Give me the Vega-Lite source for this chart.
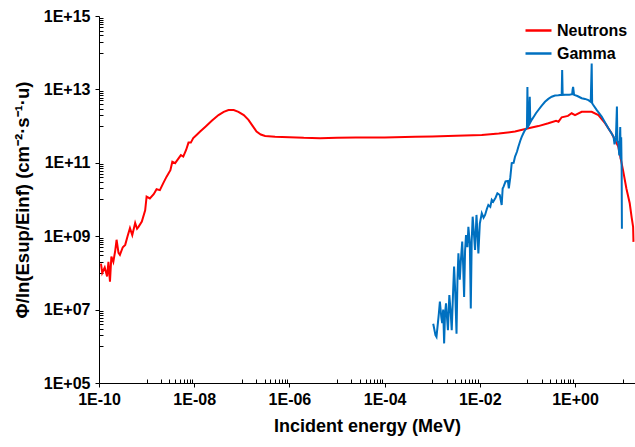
{
  "$schema": "https://vega.github.io/schema/vega-lite/v6.json",
  "autosize": {"type": "none"},
  "padding": {"left": 99, "top": 16, "right": 0, "bottom": 64},
  "width": 536,
  "height": 367,
  "background": "white",
  "config": {
    "view": {"stroke": null},
    "font": "Liberation Sans",
    "axis": {"labelFont": "Liberation Sans", "titleFont": "Liberation Sans", "labelColor": "#000000", "titleColor": "#000000", "domainColor": "#000000", "tickColor": "#000000", "grid": false}
  },
  "datasets": {
    "flux": [
      {"series": "Neutrons", "E": 1.10e-10, "phi": 1.8e8},
      {"series": "Neutrons", "E": 1.17e-10, "phi": 1.0e8},
      {"series": "Neutrons", "E": 1.32e-10, "phi": 1.4e8},
      {"series": "Neutrons", "E": 1.48e-10, "phi": 8.0e7},
      {"series": "Neutrons", "E": 1.58e-10, "phi": 2.0e8},
      {"series": "Neutrons", "E": 1.70e-10, "phi": 5.8e7},
      {"series": "Neutrons", "E": 1.82e-10, "phi": 2.8e8},
      {"series": "Neutrons", "E": 2.00e-10, "phi": 2.0e8},
      {"series": "Neutrons", "E": 2.19e-10, "phi": 4.0e8},
      {"series": "Neutrons", "E": 2.34e-10, "phi": 8.0e8},
      {"series": "Neutrons", "E": 2.57e-10, "phi": 3.5e8},
      {"series": "Neutrons", "E": 2.75e-10, "phi": 3.1e8},
      {"series": "Neutrons", "E": 3.16e-10, "phi": 5.0e8},
      {"series": "Neutrons", "E": 3.55e-10, "phi": 5.8e8},
      {"series": "Neutrons", "E": 3.98e-10, "phi": 1.0e9},
      {"series": "Neutrons", "E": 4.47e-10, "phi": 1.66e9},
      {"series": "Neutrons", "E": 5.00e-10, "phi": 1.07e9},
      {"series": "Neutrons", "E": 5.75e-10, "phi": 2.3e9},
      {"series": "Neutrons", "E": 6.30e-10, "phi": 1.6e9},
      {"series": "Neutrons", "E": 6.76e-10, "phi": 1.8e9},
      {"series": "Neutrons", "E": 7.94e-10, "phi": 2.5e9},
      {"series": "Neutrons", "E": 9.33e-10, "phi": 5.1e9},
      {"series": "Neutrons", "E": 1.00e-9, "phi": 1.2e10},
      {"series": "Neutrons", "E": 1.17e-9, "phi": 1.07e10},
      {"series": "Neutrons", "E": 1.41e-9, "phi": 1.4e10},
      {"series": "Neutrons", "E": 1.62e-9, "phi": 1.9e10},
      {"series": "Neutrons", "E": 1.90e-9, "phi": 1.8e10},
      {"series": "Neutrons", "E": 2.24e-9, "phi": 2.8e10},
      {"series": "Neutrons", "E": 2.63e-9, "phi": 4.2e10},
      {"series": "Neutrons", "E": 3.16e-9, "phi": 6.3e10},
      {"series": "Neutrons", "E": 3.47e-9, "phi": 1.07e11},
      {"series": "Neutrons", "E": 3.98e-9, "phi": 9.8e10},
      {"series": "Neutrons", "E": 4.57e-9, "phi": 1.26e11},
      {"series": "Neutrons", "E": 5.25e-9, "phi": 1.62e11},
      {"series": "Neutrons", "E": 5.89e-9, "phi": 1.48e11},
      {"series": "Neutrons", "E": 6.76e-9, "phi": 2.24e11},
      {"series": "Neutrons", "E": 7.59e-9, "phi": 3.55e11},
      {"series": "Neutrons", "E": 8.50e-9, "phi": 3.55e11},
      {"series": "Neutrons", "E": 9.55e-9, "phi": 4.7e11},
      {"series": "Neutrons", "E": 1.12e-8, "phi": 5.75e11},
      {"series": "Neutrons", "E": 1.35e-8, "phi": 7.2e11},
      {"series": "Neutrons", "E": 1.70e-8, "phi": 9.5e11},
      {"series": "Neutrons", "E": 2.34e-8, "phi": 1.4e12},
      {"series": "Neutrons", "E": 3.24e-8, "phi": 2.0e12},
      {"series": "Neutrons", "E": 4.17e-8, "phi": 2.45e12},
      {"series": "Neutrons", "E": 5.25e-8, "phi": 2.75e12},
      {"series": "Neutrons", "E": 6.76e-8, "phi": 2.75e12},
      {"series": "Neutrons", "E": 8.50e-8, "phi": 2.45e12},
      {"series": "Neutrons", "E": 1.10e-7, "phi": 2.0e12},
      {"series": "Neutrons", "E": 1.38e-7, "phi": 1.48e12},
      {"series": "Neutrons", "E": 1.70e-7, "phi": 1.0e12},
      {"series": "Neutrons", "E": 2.04e-7, "phi": 7.1e11},
      {"series": "Neutrons", "E": 2.50e-7, "phi": 5.9e11},
      {"series": "Neutrons", "E": 3.09e-7, "phi": 5.4e11},
      {"series": "Neutrons", "E": 5.00e-7, "phi": 5.1e11},
      {"series": "Neutrons", "E": 1.0e-6, "phi": 5.0e11},
      {"series": "Neutrons", "E": 2.0e-6, "phi": 4.8e11},
      {"series": "Neutrons", "E": 4.4e-6, "phi": 4.7e11},
      {"series": "Neutrons", "E": 1.0e-5, "phi": 4.8e11},
      {"series": "Neutrons", "E": 2.5e-5, "phi": 4.9e11},
      {"series": "Neutrons", "E": 1.0e-4, "phi": 4.9e11},
      {"series": "Neutrons", "E": 4.4e-4, "phi": 5.1e11},
      {"series": "Neutrons", "E": 1.0e-3, "phi": 5.2e11},
      {"series": "Neutrons", "E": 3.16e-3, "phi": 5.5e11},
      {"series": "Neutrons", "E": 1.1e-2, "phi": 5.75e11},
      {"series": "Neutrons", "E": 2.5e-2, "phi": 6.3e11},
      {"series": "Neutrons", "E": 5.5e-2, "phi": 7.1e11},
      {"series": "Neutrons", "E": 0.105, "phi": 8.7e11},
      {"series": "Neutrons", "E": 0.17, "phi": 1.0e12},
      {"series": "Neutrons", "E": 0.275, "phi": 1.2e12},
      {"series": "Neutrons", "E": 0.40, "phi": 1.4e12},
      {"series": "Neutrons", "E": 0.45, "phi": 1.32e12},
      {"series": "Neutrons", "E": 0.525, "phi": 1.74e12},
      {"series": "Neutrons", "E": 0.71, "phi": 1.9e12},
      {"series": "Neutrons", "E": 0.85, "phi": 2.24e12},
      {"series": "Neutrons", "E": 1.0, "phi": 2.0e12},
      {"series": "Neutrons", "E": 1.38, "phi": 2.45e12},
      {"series": "Neutrons", "E": 2.24, "phi": 2.45e12},
      {"series": "Neutrons", "E": 3.1, "phi": 2.0e12},
      {"series": "Neutrons", "E": 4.27, "phi": 1.2e12},
      {"series": "Neutrons", "E": 5.9, "phi": 6.3e11},
      {"series": "Neutrons", "E": 8.1, "phi": 2.75e11},
      {"series": "Neutrons", "E": 10.2, "phi": 6.3e10},
      {"series": "Neutrons", "E": 12.0, "phi": 2.0e10},
      {"series": "Neutrons", "E": 14.1, "phi": 7.9e9},
      {"series": "Neutrons", "E": 15.5, "phi": 3.2e9},
      {"series": "Neutrons", "E": 16.6, "phi": 1.8e9},
      {"series": "Neutrons", "E": 16.9, "phi": 7.0e8},
      {"series": "Gamma", "E": 1.05e-3, "phi": 4.1e6},
      {"series": "Gamma", "E": 1.17e-3, "phi": 2.0e6},
      {"series": "Gamma", "E": 1.23e-3, "phi": 1.8e6},
      {"series": "Gamma", "E": 1.38e-3, "phi": 7.9e6},
      {"series": "Gamma", "E": 1.45e-3, "phi": 1.66e7},
      {"series": "Gamma", "E": 1.55e-3, "phi": 6.3e6},
      {"series": "Gamma", "E": 1.62e-3, "phi": 4.3e6},
      {"series": "Gamma", "E": 1.70e-3, "phi": 1.0e7},
      {"series": "Gamma", "E": 1.78e-3, "phi": 1.2e6},
      {"series": "Gamma", "E": 1.86e-3, "phi": 7.9e6},
      {"series": "Gamma", "E": 1.95e-3, "phi": 1.48e7},
      {"series": "Gamma", "E": 2.04e-3, "phi": 6.3e6},
      {"series": "Gamma", "E": 2.14e-3, "phi": 2.75e6},
      {"series": "Gamma", "E": 2.24e-3, "phi": 1.26e7},
      {"series": "Gamma", "E": 2.29e-3, "phi": 2.5e7},
      {"series": "Gamma", "E": 2.45e-3, "phi": 7.9e6},
      {"series": "Gamma", "E": 2.57e-3, "phi": 2.75e6},
      {"series": "Gamma", "E": 2.75e-3, "phi": 3.2e7},
      {"series": "Gamma", "E": 2.88e-3, "phi": 1.48e8},
      {"series": "Gamma", "E": 3.02e-3, "phi": 4.0e7},
      {"series": "Gamma", "E": 3.24e-3, "phi": 2.2e6},
      {"series": "Gamma", "E": 3.39e-3, "phi": 6.3e7},
      {"series": "Gamma", "E": 3.55e-3, "phi": 3.4e8},
      {"series": "Gamma", "E": 3.80e-3, "phi": 6.5e7},
      {"series": "Gamma", "E": 3.98e-3, "phi": 2.0e8},
      {"series": "Gamma", "E": 4.27e-3, "phi": 7.1e8},
      {"series": "Gamma", "E": 4.47e-3, "phi": 1.6e8},
      {"series": "Gamma", "E": 4.68e-3, "phi": 2.2e7},
      {"series": "Gamma", "E": 4.90e-3, "phi": 4.0e8},
      {"series": "Gamma", "E": 5.13e-3, "phi": 1.07e9},
      {"series": "Gamma", "E": 5.50e-3, "phi": 5.0e8},
      {"series": "Gamma", "E": 5.75e-3, "phi": 1.8e9},
      {"series": "Gamma", "E": 6.17e-3, "phi": 6.3e8},
      {"series": "Gamma", "E": 6.46e-3, "phi": 1.07e7},
      {"series": "Gamma", "E": 6.76e-3, "phi": 7.9e8},
      {"series": "Gamma", "E": 7.08e-3, "phi": 3.4e9},
      {"series": "Gamma", "E": 7.59e-3, "phi": 1.0e9},
      {"series": "Gamma", "E": 7.94e-3, "phi": 4.2e8},
      {"series": "Gamma", "E": 8.51e-3, "phi": 3.8e9},
      {"series": "Gamma", "E": 8.91e-3, "phi": 1.26e9},
      {"series": "Gamma", "E": 9.33e-3, "phi": 3.4e8},
      {"series": "Gamma", "E": 1.0e-2, "phi": 2.2e9},
      {"series": "Gamma", "E": 1.10e-2, "phi": 4.2e9},
      {"series": "Gamma", "E": 1.20e-2, "phi": 3.2e9},
      {"series": "Gamma", "E": 1.29e-2, "phi": 3.8e9},
      {"series": "Gamma", "E": 1.41e-2, "phi": 5.6e9},
      {"series": "Gamma", "E": 1.51e-2, "phi": 7.1e9},
      {"series": "Gamma", "E": 1.66e-2, "phi": 6.3e9},
      {"series": "Gamma", "E": 1.78e-2, "phi": 9.8e9},
      {"series": "Gamma", "E": 1.91e-2, "phi": 8.7e9},
      {"series": "Gamma", "E": 2.14e-2, "phi": 1.12e10},
      {"series": "Gamma", "E": 2.34e-2, "phi": 1.48e10},
      {"series": "Gamma", "E": 2.63e-2, "phi": 1.32e10},
      {"series": "Gamma", "E": 2.88e-2, "phi": 7.1e9},
      {"series": "Gamma", "E": 3.02e-2, "phi": 2.0e10},
      {"series": "Gamma", "E": 3.16e-2, "phi": 2.24e10},
      {"series": "Gamma", "E": 3.47e-2, "phi": 3.1e10},
      {"series": "Gamma", "E": 3.89e-2, "phi": 3.2e10},
      {"series": "Gamma", "E": 4.07e-2, "phi": 2.0e10},
      {"series": "Gamma", "E": 4.37e-2, "phi": 4.0e10},
      {"series": "Gamma", "E": 4.68e-2, "phi": 9.8e10},
      {"series": "Gamma", "E": 5.13e-2, "phi": 1.0e11},
      {"series": "Gamma", "E": 5.50e-2, "phi": 1.48e11},
      {"series": "Gamma", "E": 6.03e-2, "phi": 2.0e11},
      {"series": "Gamma", "E": 6.46e-2, "phi": 2.75e11},
      {"series": "Gamma", "E": 7.08e-2, "phi": 4.0e11},
      {"series": "Gamma", "E": 7.59e-2, "phi": 5.1e11},
      {"series": "Gamma", "E": 8.32e-2, "phi": 6.6e11},
      {"series": "Gamma", "E": 8.91e-2, "phi": 7.8e11},
      {"series": "Gamma", "E": 9.77e-2, "phi": 8.9e11},
      {"series": "Gamma", "E": 0.100, "phi": 1.17e13},
      {"series": "Gamma", "E": 0.102, "phi": 9.1e11},
      {"series": "Gamma", "E": 0.107, "phi": 1.12e12},
      {"series": "Gamma", "E": 0.112, "phi": 6.3e12},
      {"series": "Gamma", "E": 0.115, "phi": 1.26e12},
      {"series": "Gamma", "E": 0.123, "phi": 1.48e12},
      {"series": "Gamma", "E": 0.138, "phi": 1.86e12},
      {"series": "Gamma", "E": 0.151, "phi": 2.24e12},
      {"series": "Gamma", "E": 0.170, "phi": 2.75e12},
      {"series": "Gamma", "E": 0.200, "phi": 3.6e12},
      {"series": "Gamma", "E": 0.234, "phi": 4.6e12},
      {"series": "Gamma", "E": 0.275, "phi": 5.5e12},
      {"series": "Gamma", "E": 0.324, "phi": 6.3e12},
      {"series": "Gamma", "E": 0.380, "phi": 6.8e12},
      {"series": "Gamma", "E": 0.447, "phi": 6.9e12},
      {"series": "Gamma", "E": 0.525, "phi": 7.1e12},
      {"series": "Gamma", "E": 0.537, "phi": 3.4e13},
      {"series": "Gamma", "E": 0.550, "phi": 7.1e12},
      {"series": "Gamma", "E": 0.631, "phi": 7.2e12},
      {"series": "Gamma", "E": 0.759, "phi": 7.2e12},
      {"series": "Gamma", "E": 0.871, "phi": 7.4e12},
      {"series": "Gamma", "E": 0.891, "phi": 1.0e13},
      {"series": "Gamma", "E": 0.912, "phi": 1.17e13},
      {"series": "Gamma", "E": 0.955, "phi": 7.1e12},
      {"series": "Gamma", "E": 1.12, "phi": 6.6e12},
      {"series": "Gamma", "E": 1.38, "phi": 5.75e12},
      {"series": "Gamma", "E": 1.62, "phi": 5.5e12},
      {"series": "Gamma", "E": 1.91, "phi": 5.1e12},
      {"series": "Gamma", "E": 2.14, "phi": 4.6e12},
      {"series": "Gamma", "E": 2.24, "phi": 5.1e13},
      {"series": "Gamma", "E": 2.29, "phi": 4.2e12},
      {"series": "Gamma", "E": 2.40, "phi": 3.8e12},
      {"series": "Gamma", "E": 2.82, "phi": 2.8e12},
      {"series": "Gamma", "E": 3.63, "phi": 1.82e12},
      {"series": "Gamma", "E": 4.27, "phi": 1.26e12},
      {"series": "Gamma", "E": 5.01, "phi": 8.7e11},
      {"series": "Gamma", "E": 5.75, "phi": 6.6e11},
      {"series": "Gamma", "E": 6.46, "phi": 5.1e11},
      {"series": "Gamma", "E": 6.76, "phi": 3.2e11},
      {"series": "Gamma", "E": 7.24, "phi": 5.0e11},
      {"series": "Gamma", "E": 7.59, "phi": 3.4e12},
      {"series": "Gamma", "E": 7.76, "phi": 4.0e11},
      {"series": "Gamma", "E": 8.13, "phi": 3.4e11},
      {"series": "Gamma", "E": 8.51, "phi": 1.6e11},
      {"series": "Gamma", "E": 8.91, "phi": 9.5e11},
      {"series": "Gamma", "E": 9.12, "phi": 1.26e11},
      {"series": "Gamma", "E": 9.33, "phi": 5.0e11},
      {"series": "Gamma", "E": 9.55, "phi": 6.3e10},
      {"series": "Gamma", "E": 9.66, "phi": 1.6e9}
    ]
  },
  "layer": [
    {
      "mark": {"type": "rule", "color": "#595959", "strokeWidth": 1},
      "encoding": {"y": {"datum": 1e15, "type": "quantitative", "scale": {"type": "log", "domain": [1e5, 1e15]}}}
    },
    {
      "data": {"name": "flux"},
      "mark": {"type": "line", "strokeWidth": 2, "clip": true},
      "encoding": {
        "x": {
          "field": "E", "type": "quantitative",
          "scale": {"type": "log", "domain": [1e-10, 18.2], "nice": false},
          "title": "Incident energy (MeV)",
          "axis": {
            "values": [1e-10, 1e-9, 2e-9, 3e-9, 4e-9, 5e-9, 6e-9, 7e-9, 8e-9, 9e-9, 1e-8, 1e-7, 2e-7, 3e-7, 4e-7, 5e-7, 6e-7, 7e-7, 8e-7, 9e-7, 1e-6, 1e-5, 2e-5, 3e-5, 4e-5, 5e-5, 6e-5, 7e-5, 8e-5, 9e-5, 1e-4, 1e-3, 2e-3, 3e-3, 4e-3, 5e-3, 6e-3, 7e-3, 8e-3, 9e-3, 1e-2, 1e-1, 2e-1, 3e-1, 4e-1, 5e-1, 6e-1, 7e-1, 8e-1, 9e-1, 1, 10],
            "labelExpr": "(abs(log(datum.value)/LN10 - round(log(datum.value)/LN10)) < 0.001 && round(log(datum.value)/LN10) % 2 == 0) ? ((round(log(datum.value)/LN10) < 0 ? '1E-' : '1E+') + (abs(round(log(datum.value)/LN10)) < 10 ? '0' : '') + abs(round(log(datum.value)/LN10))) : ''",
            "tickSize": {"condition": {"test": "abs(log(datum.value)/LN10 - round(log(datum.value)/LN10)) < 0.001 && round(log(datum.value)/LN10) % 2 == 0", "value": 4}, "value": -4},
            "labelFontSize": 16, "labelFontWeight": "bold", "labelPadding": 4,
            "labelFlush": false, "labelOverlap": false,
            "titleFontSize": 18, "titleFontWeight": "bold", "titlePadding": 10
          }
        },
        "y": {
          "field": "phi", "type": "quantitative",
          "scale": {"type": "log", "domain": [1e5, 1e15], "nice": false},
          "title": "Φ/ln(Esup/Einf) (cm⁻²·s⁻¹·u)",
          "axis": {
            "values": [1e5, 1e6, 2e6, 3e6, 4e6, 5e6, 6e6, 7e6, 8e6, 9e6, 1e7, 1e8, 2e8, 3e8, 4e8, 5e8, 6e8, 7e8, 8e8, 9e8, 1e9, 1e10, 2e10, 3e10, 4e10, 5e10, 6e10, 7e10, 8e10, 9e10, 1e11, 1e12, 2e12, 3e12, 4e12, 5e12, 6e12, 7e12, 8e12, 9e12, 1e13, 1e14, 2e14, 3e14, 4e14, 5e14, 6e14, 7e14, 8e14, 9e14, 1e15],
            "labelExpr": "(abs(log(datum.value)/LN10 - round(log(datum.value)/LN10)) < 0.001 && round(log(datum.value)/LN10) % 2 == 1) ? ('1E+' + (round(log(datum.value)/LN10) < 10 ? '0' : '') + round(log(datum.value)/LN10)) : ''",
            "tickSize": {"condition": {"test": "abs(log(datum.value)/LN10 - round(log(datum.value)/LN10)) < 0.001 && round(log(datum.value)/LN10) % 2 == 1", "value": 4}, "value": -4},
            "labelFontSize": 16, "labelFontWeight": "bold", "labelPadding": 5,
            "labelFlush": false, "labelOverlap": false,
            "titleFontSize": 18.5, "titleFontWeight": "bold", "titlePadding": 11
          }
        },
        "color": {
          "field": "series", "type": "nominal",
          "scale": {"domain": ["Neutrons", "Gamma"], "range": ["#FF0000", "#0070C0"]},
          "legend": {
            "title": null, "orient": "none", "legendX": 425, "legendY": 0,
            "symbolType": "stroke", "symbolSize": 676, "symbolStrokeWidth": 2.5,
            "labelFont": "Liberation Sans", "labelFontSize": 16, "labelFontWeight": "bold", "labelColor": "#000000",
            "labelOffset": 4, "rowPadding": 0, "padding": 0
          }
        }
      }
    }
  ]
}
